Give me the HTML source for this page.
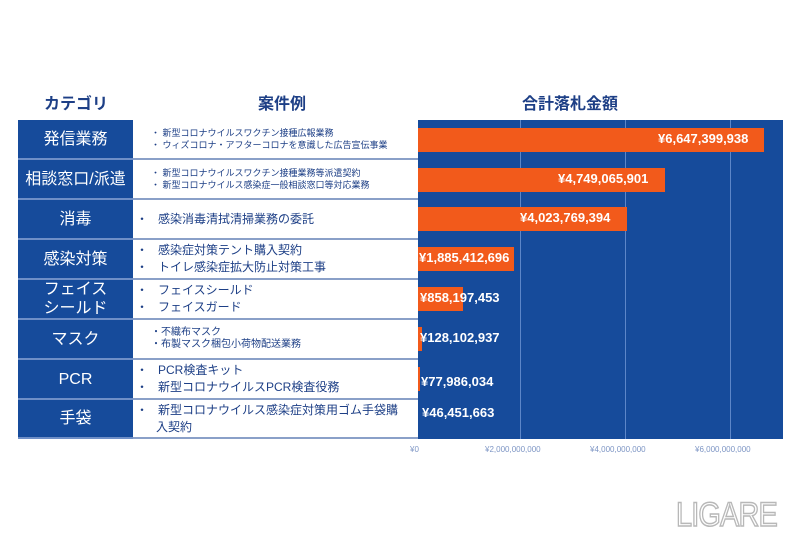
<!DOCTYPE html>
<html><head><meta charset="utf-8"><style>
body{margin:0;width:800px;height:533px;background:#fff;position:relative;overflow:hidden;font-family:"Liberation Sans","Noto Sans CJK JP",sans-serif}
.a{position:absolute}
.h{color:#1d3f86;font-weight:bold;font-size:16px}
.cat{position:absolute;left:18px;width:115px;background:#164b9b;color:#fff;font-size:16px;display:flex;align-items:center;justify-content:center;text-align:center;line-height:19px;border-bottom:2px solid #6f8fc7;box-sizing:border-box}
.ex{position:absolute;left:133px;width:285px;background:#fff;color:#1d3f86;display:flex;flex-direction:column;justify-content:center;border-bottom:2px solid #8aa0c8;box-sizing:border-box;padding-left:18px}
.s{font-size:9px;line-height:12px}
.b{font-size:12px;line-height:17px;padding-left:3px}
.bar{position:absolute;left:418px;height:24px;background:#f25a1b}
.v{position:absolute;color:#fff;font-weight:bold;font-size:13px}
.g{position:absolute;top:120px;height:319px;width:1px;background:#5d86c8}
.t{position:absolute;top:445px;font-size:8px;color:#7d95c4}
</style></head><body>
<div class="a h" style="left:44px;top:90px">カテゴリ</div>
<div class="a h" style="left:258px;top:90px">案件例</div>
<div class="a h" style="left:522px;top:90px">合計落札金額</div>
<div class="a" style="left:418px;top:120px;width:365px;height:319px;background:#164b9b"></div>
<div class="g" style="left:520px"></div><div class="g" style="left:625px"></div><div class="g" style="left:730px"></div>
<div class="cat" style="top:120px;height:40px">発信業務</div>
<div class="cat" style="top:160px;height:40px">相談窓口/派遣</div>
<div class="cat" style="top:200px;height:40px">消毒</div>
<div class="cat" style="top:240px;height:40px">感染対策</div>
<div class="cat" style="top:280px;height:40px">フェイス<br>シールド</div>
<div class="cat" style="top:320px;height:40px">マスク</div>
<div class="cat" style="top:360px;height:40px">PCR</div>
<div class="cat" style="top:400px;height:39px">手袋</div>
<div class="ex s" style="top:120px;height:40px"><div>・ 新型コロナウイルスワクチン接種広報業務</div><div>・ ウィズコロナ・アフターコロナを意識した広告宣伝事業</div></div>
<div class="ex s" style="top:160px;height:40px"><div>・ 新型コロナウイルスワクチン接種業務等派遣契約</div><div>・ 新型コロナウイルス感染症一般相談窓口等対応業務</div></div>
<div class="ex b" style="top:200px;height:40px"><div>・&nbsp;&nbsp; 感染消毒清拭清掃業務の委託</div></div>
<div class="ex b" style="top:240px;height:40px"><div>・&nbsp;&nbsp; 感染症対策テント購入契約</div><div>・&nbsp;&nbsp; トイレ感染症拡大防止対策工事</div></div>
<div class="ex b" style="top:280px;height:40px"><div>・&nbsp;&nbsp; フェイスシールド</div><div>・&nbsp;&nbsp; フェイスガード</div></div>
<div class="ex s" style="top:320px;height:40px;font-size:10px"><div>・不織布マスク</div><div>・布製マスク梱包小荷物配送業務</div></div>
<div class="ex b" style="top:360px;height:40px"><div>・&nbsp;&nbsp; PCR検査キット</div><div>・&nbsp;&nbsp; 新型コロナウイルスPCR検査役務</div></div>
<div class="ex b" style="top:400px;height:39px"><div>・&nbsp;&nbsp; 新型コロナウイルス感染症対策用ゴム手袋購</div><div>&nbsp;&nbsp;&nbsp;&nbsp;&nbsp; 入契約</div></div>
<div class="bar" style="top:128px;width:346px"></div>
<div class="bar" style="top:168px;width:247px"></div>
<div class="bar" style="top:207px;width:209px"></div>
<div class="bar" style="top:247px;width:96px"></div>
<div class="bar" style="top:287px;width:45px"></div>
<div class="bar" style="top:327px;width:4px"></div>
<div class="bar" style="top:367px;width:2px"></div>
<div class="v" style="left:658px;top:131px">¥6,647,399,938</div>
<div class="v" style="left:558px;top:171px">¥4,749,065,901</div>
<div class="v" style="left:520px;top:210px">¥4,023,769,394</div>
<div class="v" style="left:419px;top:250px">¥1,885,412,696</div>
<div class="v" style="left:420px;top:290px">¥858,197,453</div>
<div class="v" style="left:420px;top:330px">¥128,102,937</div>
<div class="v" style="left:421px;top:374px">¥77,986,034</div>
<div class="v" style="left:422px;top:405px">¥46,451,663</div>
<div class="t" style="left:410px">¥0</div>
<div class="t" style="left:485px">¥2,000,000,000</div>
<div class="t" style="left:590px">¥4,000,000,000</div>
<div class="t" style="left:695px">¥6,000,000,000</div>
<div class="a" style="left:676px;top:496px;font-size:34px;color:#fff;-webkit-text-stroke:1.5px #b8b8b8;letter-spacing:-1px;transform:scaleX(0.85);transform-origin:left">LIGARE</div>
</body></html>
